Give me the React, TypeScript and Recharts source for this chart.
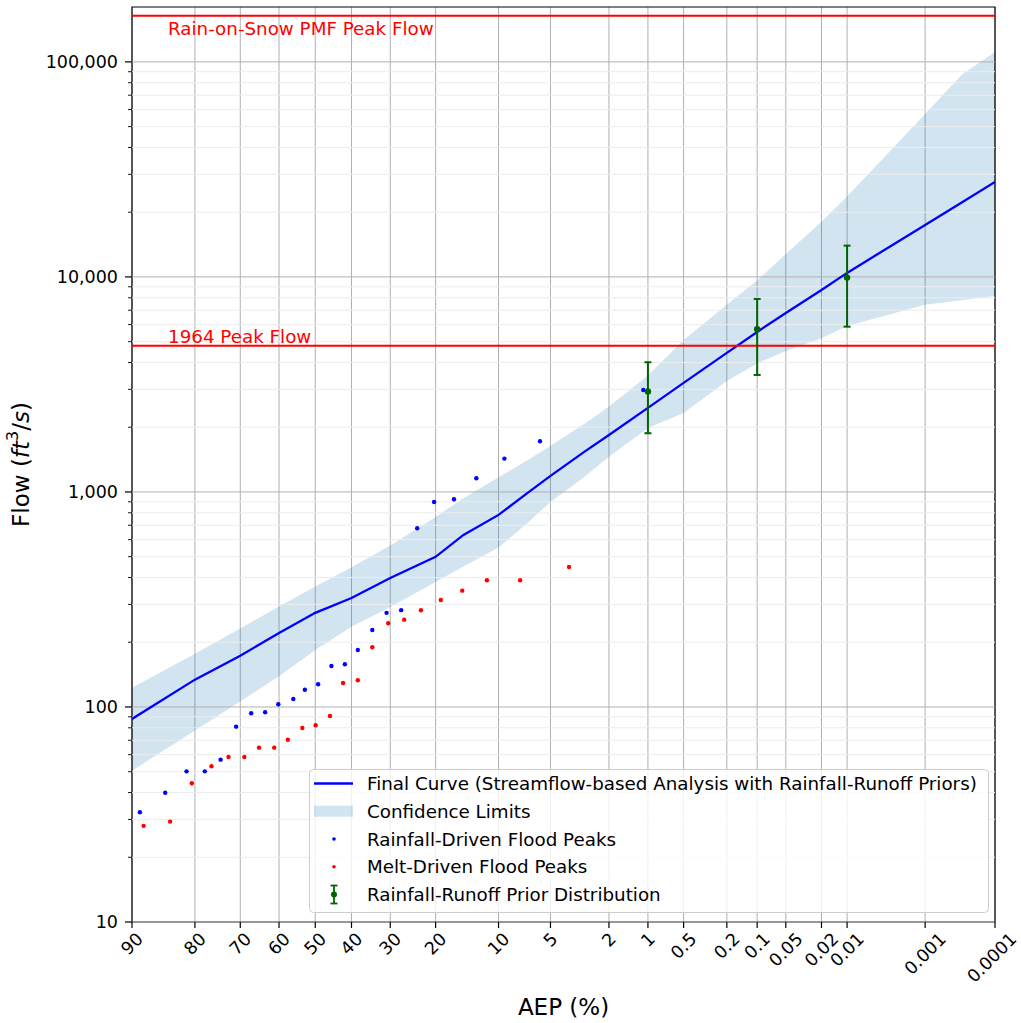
import React from "react"
import {
  Area,
  CartesianGrid,
  ComposedChart,
  ErrorBar,
  Legend,
  Line,
  ReferenceArea,
  ReferenceLine,
  Scatter,
  XAxis,
  YAxis,
} from "recharts"

// AEP (%) at which the final curve and its confidence limits were read
const curveAep = [90, 80, 70, 60, 50, 40, 30, 20, 15, 10, 7, 5, 3, 2, 1, 0.5, 0.2, 0.1, 0.05, 0.02, 0.01, 0.001, 0.0003, 0.0001]
const finalCurve = [88, 134, 173, 221, 274, 321, 398, 499, 631, 782, 979, 1187, 1535, 1841, 2459, 3214, 4431, 5547, 6800, 8700, 10440, 17450, 22330, 27670]
const upperLimit = [123, 177, 232, 293, 363, 446, 564, 765, 934, 1170, 1394, 1640, 2072, 2500, 3483, 5093, 7413, 9640, 12790, 18030, 23680, 57300, 87900, 111300]
const lowerLimit = [50.5, 77.8, 106, 139, 184, 236, 292, 381, 450, 552, 710, 898, 1175, 1458, 1985, 2330, 3283, 3960, 4529, 5180, 5916, 7413, 7820, 8155]

// plotted flood peaks (plotting position AEP %, flow cfs)
const rainAep = [89.0, 85.3, 81.6, 78.0, 74.6, 71.0, 67.3, 63.7, 60.2, 56.1, 52.9, 49.2, 45.5, 41.8, 38.3, 34.5, 30.9, 27.4, 23.8, 20.3, 16.6, 13.0, 9.3, 5.8, 1.09]
const rainFlow = [32.4, 39.9, 50.2, 50.2, 56.9, 81.0, 93.5, 94.5, 102.9, 108.9, 120.3, 127.5, 155.1, 158, 184, 228, 274, 282, 678, 898, 925, 1158, 1429, 1721, 2980]
const meltAep = [88.5, 84.5, 80.6, 76.6, 72.8, 69.0, 65.3, 61.3, 57.6, 53.6, 49.9, 45.9, 42.3, 38.3, 34.5, 30.5, 26.7, 23.0, 19.0, 15.2, 11.5, 7.6, 3.8]
const meltFlow = [28.0, 29.3, 44.2, 53.0, 58.5, 58.5, 64.7, 64.7, 70.4, 79.9, 82.2, 90.8, 129.3, 133.1, 189.5, 245, 254.7, 281.7, 314.5, 347.5, 388.5, 388.5, 448]

// rainfall-runoff prior distribution
const priorAep = [1, 0.1, 0.01]
const priorFlow = [2930, 5710, 9925]
const priorLow = [1875, 3500, 5870]
const priorHigh = [4010, 7900, 13980]

const pmfPeak = 164000
const peak1964 = 4790

const xTickLabels = ["90", "80", "70", "60", "50", "40", "30", "20", "10", "5", "2", "1", "0.5", "0.2", "0.1", "0.05", "0.02", "0.01", "0.001", "0.0001"]
const yMajor = [10, 100, 1000, 10000, 100000]
const yMinorSteps = [2, 3, 4, 5, 6, 7, 8, 9]
const yMax = 180000

const FONT = "DejaVu Sans"
const TICK_FS = 17.5
const TEXT_FS = 18.3
const LABEL_FS = 23

// inverse standard normal CDF (Acklam), used for the probability axis
function normInv(p: number): number {
  const a = [-39.69683028665376, 220.9460984245205, -275.9285104469687, 138.357751867269, -30.66479806614716, 2.506628277459239]
  const b = [-54.47609879822406, 161.5858368580409, -155.6989798598866, 66.80131188771972, -13.28068155288572]
  const c = [-0.007784894002430293, -0.3223964580411365, -2.400758277161838, -2.549671945620940, 4.374664141464968, 2.938163982698783]
  const d = [0.007784695709041462, 0.3224671290700398, 2.445134137142996, 3.754408661907416]
  const pl = 0.02425
  if (p < pl) {
    const q = Math.sqrt(-2 * Math.log(p))
    return (((((c[0] * q + c[1]) * q + c[2]) * q + c[3]) * q + c[4]) * q + c[5]) / ((((d[0] * q + d[1]) * q + d[2]) * q + d[3]) * q + 1)
  }
  if (p > 1 - pl) {
    const q = Math.sqrt(-2 * Math.log(1 - p))
    return -(((((c[0] * q + c[1]) * q + c[2]) * q + c[3]) * q + c[4]) * q + c[5]) / ((((d[0] * q + d[1]) * q + d[2]) * q + d[3]) * q + 1)
  }
  const q = p - 0.5
  const r = q * q
  return ((((((a[0] * r + a[1]) * r + a[2]) * r + a[3]) * r + a[4]) * r + a[5]) * q) / (((((b[0] * r + b[1]) * r + b[2]) * r + b[3]) * r + b[4]) * r + 1)
}

// exceedance probability (%) -> normal deviate
const aepToZ = (aep: number) => -normInv(aep / 100)

const xTicks = xTickLabels.map((l) => aepToZ(parseFloat(l)))
const xDomain = [aepToZ(90), aepToZ(0.0001)]
const yMinor = yMajor.flatMap((d) => yMinorSteps.map((m) => m * d)).filter((v) => v < yMax)
const yTicks = [...yMajor, ...yMinor].sort((p, q) => p - q)

const curveData = curveAep.map((a, i) => ({ z: aepToZ(a), q: finalCurve[i] }))
const bandData = curveAep.map((a, i) => ({ z: aepToZ(a), range: [lowerLimit[i], upperLimit[i]] }))
const rainData = rainAep.map((a, i) => ({ z: aepToZ(a), q: rainFlow[i] }))
const meltData = meltAep.map((a, i) => ({ z: aepToZ(a), q: meltFlow[i] }))
const priorData = priorAep.map((a, i) => ({
  z: aepToZ(a),
  q: priorFlow[i],
  err: [priorFlow[i] - priorLow[i], priorHigh[i] - priorFlow[i]],
}))

const AepTick = ({ x, y, payload }: any) => {
  const i = xTicks.findIndex((v) => Math.abs(v - payload.value) < 1e-9)
  const label = xTickLabels[i] ?? ""
  const w = [...label].reduce((s, ch) => s + (ch === "." ? 0.318 : 0.636), 0) * TICK_FS
  const half = (w * Math.SQRT1_2) / 2
  const inkHalf = ((w + TICK_FS * 0.73) * Math.SQRT1_2) / 2
  const cx = Math.min(x, 1018 - inkHalf)
  const cy = y + 14 + half
  return (
    <g>
      <line x1={x} x2={x} y1={y} y2={y + 6} stroke="#000" strokeWidth={1.2} />
      <text
        x={cx}
        y={cy}
        transform={`rotate(-45 ${cx} ${cy})`}
        textAnchor="middle"
        dominantBaseline="central"
        fontFamily={FONT}
        fontSize={TICK_FS}
        fill="#000"
      >
        {label}
      </text>
    </g>
  )
}

const FlowTick = ({ x, y, payload }: any) => {
  const major = yMajor.includes(payload.value)
  return (
    <g>
      <line x1={x - (major ? 7 : 4)} x2={x} y1={y} y2={y} stroke="#000" strokeWidth={major ? 1.2 : 0.9} />
      {major && (
        <text x={x - 14} y={y} textAnchor="end" dominantBaseline="central" fontFamily={FONT} fontSize={TICK_FS} fill="#000">
          {payload.value.toLocaleString("en-US")}
        </text>
      )}
    </g>
  )
}

const XLabel = ({ viewBox }: any) => {
  const vb = viewBox || { x: 132, y: 922, width: 863 }
  return (
    <text x={vb.x + vb.width / 2} y={vb.y + 93} textAnchor="middle" fontFamily={FONT} fontSize={LABEL_FS} fill="#000">
      AEP (%)
    </text>
  )
}

const YLabel = ({ viewBox }: any) => {
  const vb = viewBox || { x: 0, y: 7, height: 915 }
  const cx = vb.x + 21
  const cy = vb.y + vb.height / 2
  return (
    <text
      x={cx}
      y={cy}
      transform={`rotate(-90 ${cx} ${cy})`}
      textAnchor="middle"
      dominantBaseline="central"
      fontFamily={FONT}
      fontSize={LABEL_FS}
      fill="#000"
    >
      Flow (<tspan fontStyle="italic">ft</tspan>
      <tspan dy={-9} fontSize={16}>3</tspan>
      <tspan dy={9}>/</tspan>
      <tspan fontStyle="italic">s</tspan>)
    </text>
  )
}

const redLabel = (text: string, dy: number) => (props: any) => {
  const vb = props.viewBox || { x: 132, y: 0 }
  return (
    <text x={vb.x + 36} y={vb.y + dy} fontFamily={FONT} fontSize={TEXT_FS} fill="#ff0000">
      {text}
    </text>
  )
}

const legendRows = [
  "Final Curve (Streamflow-based Analysis with Rainfall-Runoff Priors)",
  "Confidence Limits",
  "Rainfall-Driven Flood Peaks",
  "Melt-Driven Flood Peaks",
  "Rainfall-Runoff Prior Distribution",
]

const LegendBox = () => {
  const rowY = (i: number) => 14.5 + i * 27.75
  return (
    <svg width={680} height={144} style={{ display: "block" }}>
      <rect x={0.5} y={0.5} width={679} height={143} rx={4} fill="#fff" fillOpacity={0.8} stroke="#cccccc" />
      <line x1={5} x2={44} y1={rowY(0)} y2={rowY(0)} stroke="#0000ff" strokeWidth={2.3} />
      <rect x={5} y={rowY(1) - 5.5} width={39} height={11} fill="#1f77b4" fillOpacity={0.2} />
      <circle cx={25} cy={rowY(2)} r={1.8} fill="#0000ff" />
      <circle cx={25} cy={rowY(3)} r={1.8} fill="#ff0000" />
      <g stroke="#006400" strokeWidth={1.8}>
        <line x1={25} x2={25} y1={rowY(4) - 9} y2={rowY(4) + 9} />
        <line x1={21.5} x2={28.5} y1={rowY(4) - 9} y2={rowY(4) - 9} />
        <line x1={21.5} x2={28.5} y1={rowY(4) + 9} y2={rowY(4) + 9} />
      </g>
      <circle cx={25} cy={rowY(4)} r={3} fill="#006400" />
      {legendRows.map((t, i) => (
        <text key={t} x={58} y={rowY(i)} dominantBaseline="central" fontFamily={FONT} fontSize={TEXT_FS} fill="#000">
          {t}
        </text>
      ))}
    </svg>
  )
}

const dot = (color: string, r: number) => (props: any) => <circle cx={props.cx} cy={props.cy} r={r} fill={color} />

export default function App() {
  return (
    <div style={{ position: "absolute", left: 0, top: 0, background: "#fff" }}>
      <ComposedChart width={1021} height={1023} margin={{ top: 7, right: 26, bottom: 0, left: 0 }}>
        <CartesianGrid horizontal={false} vertical stroke="#b0b0b0" strokeWidth={1} />
        {yMinor.map((v) => (
          <ReferenceLine key={`mn${v}`} y={v} stroke="#ececec" strokeWidth={1} />
        ))}
        {yMajor.map((v) => (
          <ReferenceLine key={`mj${v}`} y={v} stroke="#b0b0b0" strokeWidth={1} />
        ))}
        <XAxis
          type="number"
          dataKey="z"
          domain={xDomain}
          ticks={xTicks}
          interval={0}
          allowDataOverflow
          axisLine={false}
          tickLine={false}
          tickSize={0}
          tickMargin={0}
          height={101}
          tick={<AepTick />}
          label={<XLabel />}
        />
        <YAxis
          type="number"
          scale="log"
          domain={[10, yMax]}
          ticks={yTicks}
          interval={0}
          allowDataOverflow
          axisLine={false}
          tickLine={false}
          tickSize={0}
          tickMargin={0}
          width={132}
          tick={<FlowTick />}
          label={<YLabel />}
        />
        <Area
          data={bandData}
          dataKey="range"
          type="linear"
          stroke="none"
          fill="#1f77b4"
          fillOpacity={0.2}
          isAnimationActive={false}
        />
        <Line data={curveData} dataKey="q" type="linear" stroke="#0000ff" strokeWidth={2.3} dot={false} isAnimationActive={false} />
        <ReferenceLine y={pmfPeak} stroke="#ff0000" strokeWidth={2} label={redLabel("Rain-on-Snow PMF Peak Flow", 19)} />
        <ReferenceLine y={peak1964} stroke="#ff0000" strokeWidth={2} label={redLabel("1964 Peak Flow", -2.5)} />
        <Scatter data={rainData} dataKey="q" shape={dot("#0000ff", 2.2)} isAnimationActive={false} />
        <Scatter data={meltData} dataKey="q" shape={dot("#ff0000", 2.2)} isAnimationActive={false} />
        <Scatter data={priorData} dataKey="q" shape={dot("#006400", 3.2)} isAnimationActive={false}>
          <ErrorBar dataKey="err" direction="y" width={3.5} stroke="#006400" strokeWidth={2} isAnimationActive={false} />
        </Scatter>
        <ReferenceArea x1={xDomain[0]} x2={xDomain[1]} y1={10} y2={yMax} fill="none" stroke="#000" strokeWidth={1.2} />
        <Legend
          layout="horizontal"
          verticalAlign="middle"
          align="center"
          width={680}
          height={144}
          wrapperStyle={{ left: 309, top: 769, width: 680, height: 144 }}
          content={<LegendBox />}
        />
      </ComposedChart>
    </div>
  )
}
